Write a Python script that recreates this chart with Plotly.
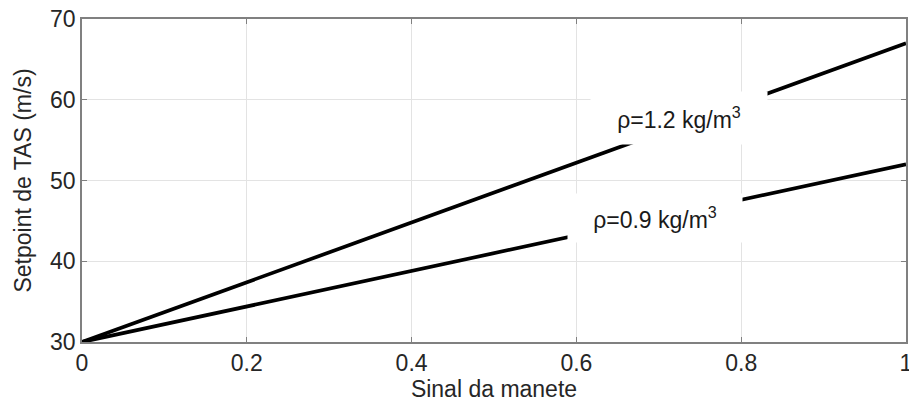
import plotly.graph_objects as go

signal = [0, 0.2, 0.4, 0.6, 0.8, 1.0]
tas_rho12 = [30, 37.4, 44.8, 52.2, 59.6, 67.0]
tas_rho09 = [30, 34.4, 38.8, 43.2, 47.6, 52.0]
x_ticks = [0, 0.2, 0.4, 0.6, 0.8, 1]
x_ticklabels = ["0", "0.2", "0.4", "0.6", "0.8", "1"]
y_ticks = [30, 40, 50, 60, 70]
labels = ["ρ=1.2 kg/m<sup>3</sup>", "ρ=0.9 kg/m<sup>3</sup>"]
label_x = [0.725, 0.695]
label_y = [57.7, 45.4]

FONT = "Liberation Sans, Arial, sans-serif"
fig = go.Figure()
for ys in (tas_rho12, tas_rho09):
    fig.add_trace(go.Scatter(x=signal, y=ys, mode="lines",
                             line=dict(color="black", width=3.7), showlegend=False))

for t, lx, ly, w, h in zip(labels, label_x, label_y, [174, 172], [50, 46]):
    fig.add_annotation(x=lx, y=ly, xref="x", yref="y", text=t, showarrow=False,
                       bgcolor="white", width=w, height=h,
                       font=dict(family=FONT, size=23, color="#1a1a1a"))

axis_common = dict(showline=True, linecolor="#808080", linewidth=1.5, mirror="ticks",
                   ticks="inside", ticklen=5, tickcolor="#808080", showgrid=True,
                   gridcolor="#e3e3e3", gridwidth=1, zeroline=False,
                   ticklabeloverflow="allow", automargin=False,
                   tickfont=dict(family=FONT, size=23, color="#262626"))

fig.update_xaxes(range=[0, 1], tickvals=x_ticks, ticktext=x_ticklabels,
                 title=dict(text="Sinal da manete", font=dict(family=FONT, size=23, color="#262626"), standoff=4),
                 **axis_common)
fig.update_yaxes(range=[30, 70], tickvals=y_ticks,
                 title=dict(text="Setpoint de TAS (m/s)", font=dict(family=FONT, size=23, color="#262626"), standoff=12),
                 **axis_common)

fig.update_layout(width=909, height=408, margin=dict(l=82, r=3, t=19, b=66),
                  plot_bgcolor="white", paper_bgcolor="white")
fig.write_html("out.html")
